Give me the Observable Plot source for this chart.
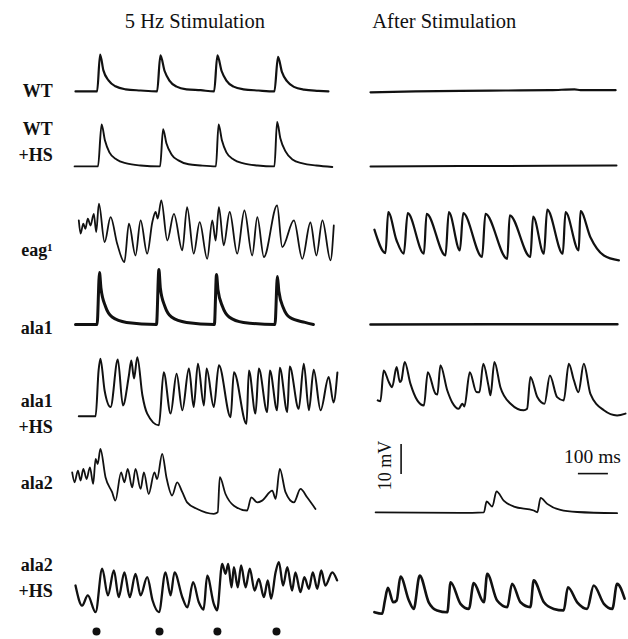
<!DOCTYPE html>
<html><head><meta charset="utf-8">
<script src="https://cdn.jsdelivr.net/npm/d3@7"></script>
<script src="https://cdn.jsdelivr.net/npm/@observablehq/plot@0.6"></script>
<style>body{margin:0;background:#fff}</style>
</head><body><div id="chart"></div>
<script>
// ---- labels ----
const columns = ["5 Hz Stimulation", "After Stimulation"];
const rowLabels = ["WT", "WT\n+HS", "eag\u00B9", "ala1", "ala1\n+HS", "ala2", "ala2\n+HS"];
const stimTimes = [70, 280, 473, 670]; // ms, stimulus markers
// ---- traces: [time ms, membrane potential mV relative to rest] ----
const WT_stim = [[0,0],[72,0],[82,12.3],[93,7],[110,3.7],[133,1.7],[167,0.7],[217,0.3],[272,0],[283,12],[297,6.8],[313,3.6],[337,1.6],[370,0.7],[417,0.4],[462,0],[473,12],[487,6.8],[503,3.6],[527,1.6],[560,0.7],[610,0.3],[663,0],[675,11.5],[688,6.5],[705,3.4],[728,1.5],[762,0.6],[810,0.2],[843,0]];
const WT_after = [[0,-0.3],[150,0],[300,0.2],[450,0.3],[600,0.4],[680,0.7],[700,0.4],[817,0.4]];
const WTHS_stim = [[-3,0],[75,0],[87,14],[98,8.7],[113,4.7],[137,2.3],[170,1],[217,0.3],[282,0],[292,12.4],[303,7.7],[320,4],[343,2],[377,0.7],[417,0.3],[468,0],[477,14],[488,8.7],[503,4.7],[527,2.3],[560,1],[607,0.3],[663,0],[672,14.8],[683,9.3],[700,5],[723,2.3],[757,1],[803,0.3],[856,-0.2]];
const WTHS_after = [[0,0],[300,0.1],[600,0.2],[820,0.3]];
const eag_stim = [[11,14],[17,9.6],[26,12.9],[33,11.2],[41,14.6],[50,12.3],[61,16.2],[69,10.1],[78,19.6],[97,6.8],[117,15.1],[139,6.2],[163,0.1],[178,12.9],[200,2.3],[217,14],[239,2.9],[256,13.4],[267,16.8],[274,14.6],[286,20.7],[306,7.3],[328,16.2],[356,4],[372,18.4],[394,2.9],[414,13.4],[439,1.2],[456,14],[467,7.3],[478,18.4],[494,5.7],[514,16.8],[539,2.9],[563,17.3],[589,2.3],[606,15.1],[628,1.8],[672,19],[689,5.1],[728,14],[756,1.2],[783,13.3],[803,2.3],[823,14],[850,0.7],[861,12.3]];
const eag_after = [[13,10.9],[50,3.1],[59,16.8],[87,7.3],[111,2.9],[124,16.4],[178,2.9],[187,16.2],[250,2.3],[261,16.8],[298,4],[309,16.4],[372,1.8],[383,16.2],[456,1.2],[464,15.7],[533,1.8],[542,15.3],[578,2.9],[589,17.6],[641,2.9],[650,16.8],[694,4],[700,17.1],[733,8.4],[778,2.3],[828,0.7]];
const ala1_stim = [[0,0],[72,0],[80,17.3],[85,12],[100,6],[122,2.5],[170,0.7],[270,0],[278,18.3],[283,12],[298,6],[320,2.5],[370,0.7],[463,0],[470,16.7],[475,11.5],[490,6],[512,2.5],[560,0.7],[665,0],[673,16],[678,11],[693,5.5],[715,2.3],[765,0.7],[793,0]];
const ala1_after = [[0,0],[400,0.1],[823,0.1]];
const ala1HS_stim = [[11,-0.3],[67,-0.3],[77,15],[83,18.9],[97,8.3],[117,2.8],[141,18.6],[158,3.3],[178,13.3],[186,18.3],[195,12.3],[206,19.4],[223,6.7],[239,0.6],[278,-3.3],[294,14.4],[317,0.6],[337,13.9],[356,1.7],[378,15.6],[394,2.8],[408,17.2],[428,3.3],[437,15.6],[461,2.8],[478,16.7],[517,-0.6],[528,14.4],[570,-2.8],[578,15],[600,0.6],[611,15.6],[639,1.1],[648,15],[672,1.7],[681,15.9],[706,1.1],[714,16.3],[744,2.2],[761,17.2],[778,1.7],[794,15.2],[817,1.7],[844,12.8],[860,4.3],[873,14.3]];
const ala1HS_after = [[24,5],[33,4.7],[44,15],[61,11.1],[72,9.4],[87,16.1],[98,11.1],[103,11.7],[114,17.8],[133,10.6],[156,5],[178,3.3],[191,14.4],[217,7.2],[223,7],[233,16.7],[256,8.3],[272,4.4],[294,2.2],[306,3.9],[313,3],[331,14.4],[353,7.8],[363,7.7],[376,17.2],[393,10],[400,6.7],[413,17.8],[433,9.4],[467,3.9],[511,1.7],[522,2.2],[533,12.8],[556,6.1],[580,3.9],[598,13.3],[622,6.1],[644,5],[661,17.2],[678,11.7],[693,7.7],[711,17.2],[733,7.2],[778,1.7],[822,0],[850,0.6]];
const ala2_stim = [[-11,13.4],[-3,10.1],[8,14],[17,10.7],[26,14.6],[37,11.2],[48,15.1],[59,9.6],[67,17.9],[74,16.2],[83,21.2],[100,11.8],[122,6.8],[133,4],[152,13.4],[163,10.1],[174,14.6],[189,8.4],[200,14.6],[217,7.9],[228,13.4],[244,6.2],[263,13.4],[272,11.2],[289,19.6],[303,11.8],[322,5.7],[339,10.1],[356,6.8],[372,3.4],[406,1.2],[461,-0.4],[474,0.1],[481,11.8],[500,6.2],[528,2.3],[572,0.7],[586,5.1],[606,3.4],[622,4],[656,7.3],[667,4.6],[681,14.6],[700,6.8],[728,3.4],[750,7.9],[772,5.1],[800,1.2]];
const ala2_after = [[17,0.1],[300,-0.1],[378,0.1],[387,3.7],[406,2],[420,7.1],[444,4],[478,2],[544,0.7],[556,0.1],[567,4.9],[589,2.9],[633,0.9],[689,0.2],[822,-0.2]];
const ala2HS_stim = [[0,9],[22,2.3],[41,5.7],[67,0.1],[89,14.6],[108,5.7],[128,14],[144,5.1],[163,13.4],[181,5.1],[200,12.9],[217,5.7],[239,11.8],[257,4],[278,0.1],[300,13.4],[317,5.7],[330,13.4],[356,5.1],[373,1.7],[392,10.1],[411,3.4],[427,1],[439,12.3],[461,2.9],[472,0.7],[489,16.2],[500,12.9],[509,16.2],[520,8.4],[528,15.1],[541,8.4],[552,15.7],[567,8.4],[581,14.6],[597,7.3],[611,11.2],[628,5.1],[641,10.7],[652,4.6],[667,13.4],[678,16.8],[692,9],[706,15.1],[722,7.3],[733,13.4],[750,6.8],[763,11.8],[778,7.9],[791,13.4],[806,7.9],[819,14],[833,9],[856,13.4],[872,10.7]];
const ala2HS_after = [[13,0.1],[39,-0.4],[48,4],[58,8.2],[76,3.4],[87,4],[100,12],[128,4],[144,1.2],[164,12.3],[194,3.4],[222,0.7],[256,0.1],[267,10.1],[300,2.9],[328,1.2],[344,9.8],[378,3.4],[389,12.9],[422,4],[456,1.8],[472,9.6],[500,3.4],[533,1.8],[544,10.7],[578,3.4],[611,1.2],[644,0.7],[658,8.4],[689,3.4],[722,1.2],[744,9],[778,2.9],[806,1.2],[822,9.6],[847,4.6]];
// scale bars
const scaleBarMV = 10;   // mV
const scaleBarMS = 100;  // ms

// ---- layout (not data) ----
const W = 628, H = 639;
const colOffset = [0, 983.33];           // ms offset of each column on the shared x scale
const rowBase = [182.7, 157.7, 125.7, 105, 74.7, 42.3, 9]; // resting level of each row (y units = mV)
const labelY = [183.7, 166.5, 130.5, 104.7, 76, 53, 21.3];
const traces = [
  [0,0,WT_stim,2.2],[0,1,WT_after,2.2],
  [1,0,WTHS_stim,1.9],[1,1,WTHS_after,2],
  [2,0,eag_stim,1.8],[2,1,eag_after,2.2],
  [3,0,ala1_stim,3],[3,1,ala1_after,2.6],
  [4,0,ala1HS_stim,2],[4,1,ala1HS_after,2],
  [5,0,ala2_stim,1.8],[5,1,ala2_after,1.8],
  [6,0,ala2HS_stim,2.3],[6,1,ala2HS_after,2.6]
];
const serif = "'Liberation Serif', 'Times New Roman', serif";

const marks = [];
for (const [r, c, pts, sw] of traces) {
  marks.push(Plot.line(pts, {
    x: d => d[0] + colOffset[c], y: d => rowBase[r] + d[1],
    stroke: "#111", strokeWidth: sw, curve: "monotone-x", strokeLinejoin: "round", strokeLinecap: "round"
  }));
}
// column titles
marks.push(Plot.text([columns[0]], {x: 398, y: 206, text: d => d, fontSize: 20.5, fontFamily: serif, fill: "#111"}));
marks.push(Plot.text([columns[1]], {x: colOffset[1] + 6, y: 206, text: d => d, textAnchor: "start", fontSize: 20.5, fontFamily: serif, fill: "#111"}));
// row labels
marks.push(Plot.text(rowLabels, {x: -76, y: (d, i) => labelY[i], text: d => d, textAnchor: "end", lineHeight: 1.45, fontSize: 18, fontWeight: "bold", fontFamily: serif, fill: "#111"}));
// stimulus markers
marks.push(Plot.dot(stimTimes, {x: d => d, y: 2.7, r: 4, fill: "#111", stroke: null}));
// scale bars (in the ala2 / After Stimulation panel)
marks.push(Plot.ruleX([102], {x: d => d + colOffset[1], y1: rowBase[5] + 12.7, y2: rowBase[5] + 12.7 + scaleBarMV, stroke: "#111", strokeWidth: 1.6}));
marks.push(Plot.ruleY([rowBase[5] + 13], {x1: 693 + colOffset[1], x2: 693 + scaleBarMS + colOffset[1], stroke: "#111", strokeWidth: 1.6}));
marks.push(Plot.text([`${scaleBarMS} ms`], {x: 740 + colOffset[1], y: rowBase[5] + 18.5, text: d => d, fontSize: 19.5, fontFamily: serif, fill: "#111"}));
marks.push(Plot.text([`${scaleBarMV} mV`], {x: 50 + colOffset[1], y: rowBase[5] + 15.7, text: d => d, rotate: -90, fontSize: 18, fontFamily: serif, fill: "#111"}));

const chart = Plot.plot({
  width: W, height: H, margin: 0,
  x: {domain: [-250, 1843.33], axis: null},
  y: {domain: [0, 213], axis: null},
  style: {background: "#fff", fontFamily: serif},
  marks
});
document.getElementById("chart").append(chart);
</script>
</body></html>
